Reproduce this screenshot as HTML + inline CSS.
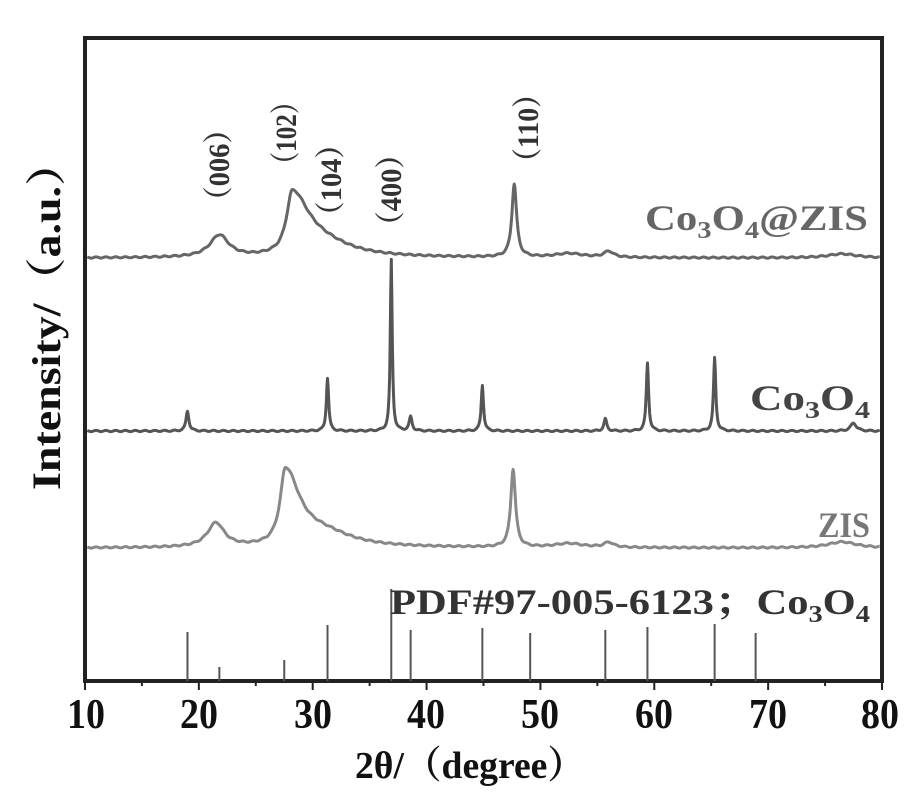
<!DOCTYPE html>
<html><head><meta charset="utf-8"><style>
body{margin:0;background:#fff}
svg{display:block}
text{font-family:"Liberation Serif","Noto Serif CJK SC",serif;font-weight:bold}
</style></head><body>
<svg id="s" width="921" height="810" viewBox="0 0 921 810" xmlns="http://www.w3.org/2000/svg">
<rect x="85" y="38" width="797" height="643" fill="none" stroke="#222" stroke-width="4"/>
<g id="ticks" stroke="#222" stroke-width="2"></g>
<g id="series" fill="none" stroke-linejoin="round"></g>
<g font-size="42" fill="#111" text-anchor="middle" lengthAdjust="spacingAndGlyphs">
<text x="86" y="728" textLength="38" lengthAdjust="spacingAndGlyphs">10</text>
<text x="199" y="728" textLength="38" lengthAdjust="spacingAndGlyphs">20</text>
<text x="313" y="728" textLength="38" lengthAdjust="spacingAndGlyphs">30</text>
<text x="426" y="728" textLength="38" lengthAdjust="spacingAndGlyphs">40</text>
<text x="540" y="728" textLength="38" lengthAdjust="spacingAndGlyphs">50</text>
<text x="654" y="728" textLength="38" lengthAdjust="spacingAndGlyphs">60</text>
<text x="768" y="728" textLength="38" lengthAdjust="spacingAndGlyphs">70</text>
<text x="880" y="728" textLength="38" lengthAdjust="spacingAndGlyphs">80</text>
<text x="470" y="778" font-size="38" textLength="230" lengthAdjust="spacingAndGlyphs">2θ/（degree）</text>
<text transform="translate(60,315) rotate(-90)" font-size="40" textLength="350" lengthAdjust="spacingAndGlyphs">Intensity/（a.u.）</text>
</g>
<g font-size="30" fill="#333" text-anchor="middle">
<text transform="translate(229,165) rotate(-90)" textLength="100" lengthAdjust="spacingAndGlyphs">（006）</text>
<text transform="translate(296,133) rotate(-90)" textLength="88" lengthAdjust="spacingAndGlyphs">（102）</text>
<text transform="translate(341,180) rotate(-90)" textLength="100" lengthAdjust="spacingAndGlyphs">（104）</text>
<text transform="translate(401,190) rotate(-90)" textLength="100" lengthAdjust="spacingAndGlyphs">（400）</text>
<text transform="translate(538,128) rotate(-90)" textLength="96" lengthAdjust="spacingAndGlyphs">（110）</text>
</g>
<g font-size="36" fill="#666">
<text x="645" y="230" textLength="223" lengthAdjust="spacingAndGlyphs">Co<tspan font-size="24" dy="8">3</tspan><tspan dy="-8">O</tspan><tspan font-size="24" dy="8">4</tspan><tspan dy="-8">@ZIS</tspan></text>
<text x="750" y="410" fill="#444" textLength="120" lengthAdjust="spacingAndGlyphs">Co<tspan font-size="24" dy="8">3</tspan><tspan dy="-8">O</tspan><tspan font-size="24" dy="8">4</tspan></text>
<text x="818" y="537" fill="#777" textLength="52" lengthAdjust="spacingAndGlyphs">ZIS</text>
<text x="390" y="614" fill="#333" textLength="480" lengthAdjust="spacingAndGlyphs">PDF#97-005-6123；Co<tspan font-size="24" dy="8">3</tspan><tspan dy="-8">O</tspan><tspan font-size="24" dy="8">4</tspan></text>
</g>
</svg>
<script>
var X=function(d){return 85+(d-10)*797/70};
var ns="http://www.w3.org/2000/svg";
var tg=document.getElementById('ticks');
for(var d=10;d<=80;d+=5){var l=document.createElementNS(ns,'line');var x=X(d);l.setAttribute('x1',x);l.setAttribute('x2',x);l.setAttribute('y1',681);l.setAttribute('y2',d%10==0?690:686);tg.appendChild(l);}
var sg=document.getElementById('series');
function series(base,peaks,col,w){var p='';for(var d=10.2;d<=79.8;d+=0.05){var y=base;for(var i=0;i<peaks.length;i++){var k=peaks[i];var t=d-k[0];var s=(t<0?k[2]:(k[3]||k[2]));y-=k[1]/(1+t*t/(s*s));}
y+=Math.sin(d*7.3)*0.6;p+=(p?'L':'M')+X(d).toFixed(1)+' '+y.toFixed(1);}
var e=document.createElementNS(ns,'path');e.setAttribute('d',p);e.setAttribute('stroke',col);e.setAttribute('stroke-width',w);sg.appendChild(e);}
series(258,[[21.8,22,1.0],[28.2,62,0.6,1.8],[31,10,3],[47.7,73,0.25],[52.5,4,1.5],[56,6,0.5],[76.5,4,1.5]],'#666',3);
series(431,[[19,20,0.15],[31.3,53,0.12],[36.9,171,0.1],[38.6,14,0.15],[44.9,46,0.12],[55.7,12,0.15],[59.4,68,0.12],[65.3,73,0.12],[77.5,8,0.3]],'#555',3);
series(548,[[21.5,24,0.9],[27.6,75,0.55,1.5],[31,12,3],[47.6,78,0.25],[52.5,4,1.5],[56,5,0.5],[76.5,6,1.5]],'#888',3);
var bars=[[19,49],[21.8,14],[27.5,21],[31.3,56],[36.9,92],[38.6,51],[44.9,53],[49.1,48],[55.7,51],[59.4,54],[65.3,57],[68.9,48]];
bars.forEach(function(b){var l=document.createElementNS(ns,'line');l.setAttribute('x1',X(b[0]));l.setAttribute('x2',X(b[0]));l.setAttribute('y1',681);l.setAttribute('y2',681-b[1]);l.setAttribute('stroke','#555');l.setAttribute('stroke-width',2);sg.appendChild(l);});
</script>
</body></html>
